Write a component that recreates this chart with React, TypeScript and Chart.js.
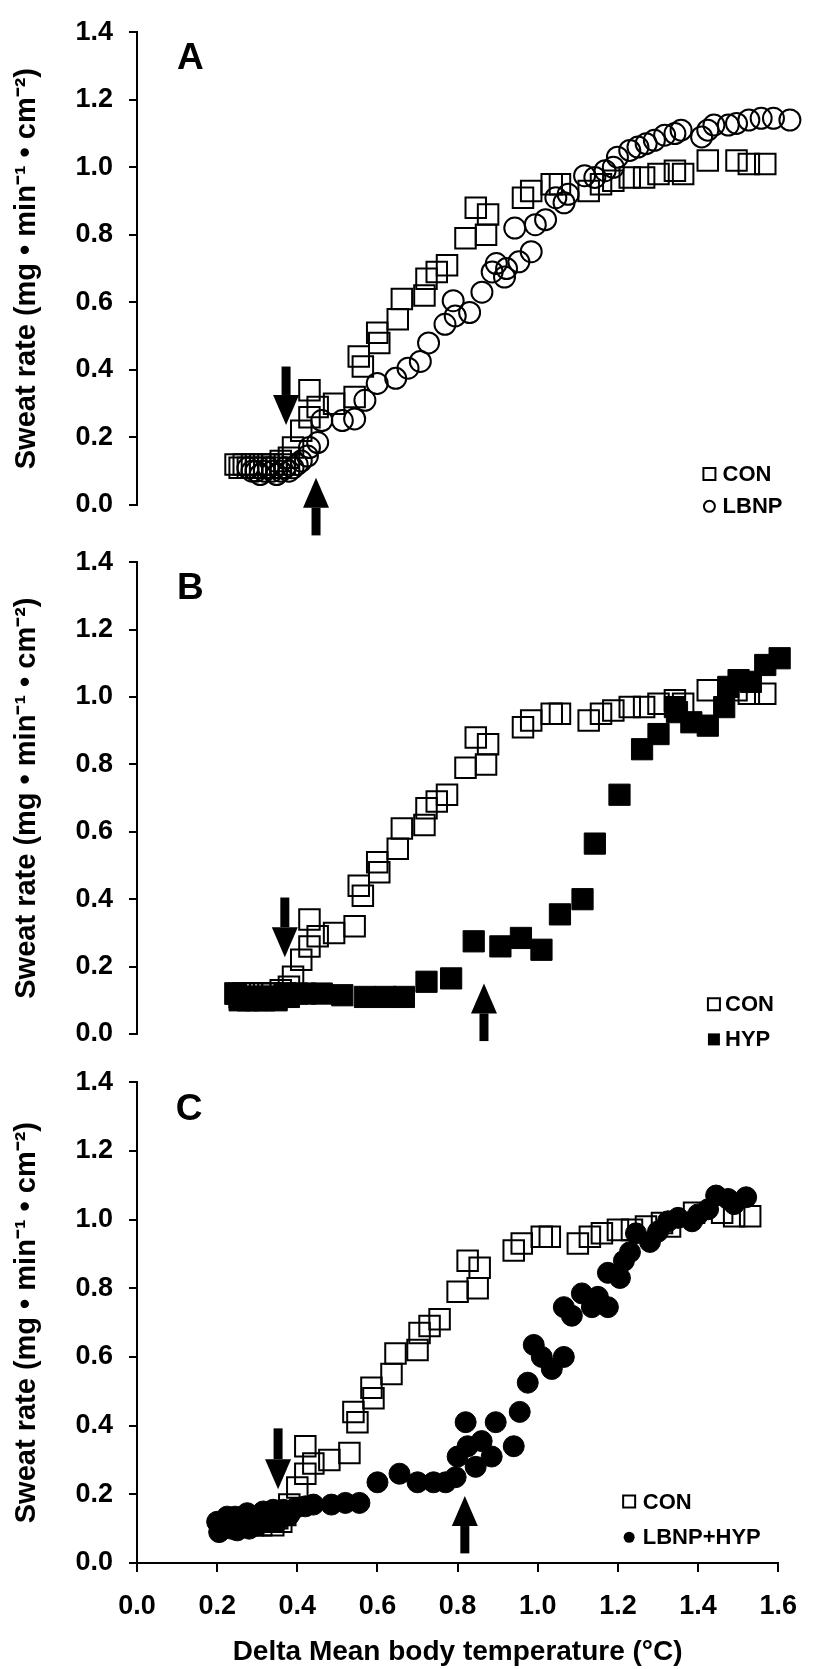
import React, { useEffect, useRef } from "react";
import { Chart, registerables } from "chart.js";
Chart.register(...registerables);

const FONT = '"Liberation Sans", Arial, sans-serif';

// ---- data ----
const conX = [0.24,0.25,0.26,0.27,0.28,0.29,0.30,0.31,0.32,0.33,0.34,0.35,0.36,0.37,0.38,0.40,0.42,0.42,0.44,0.48,0.53,0.54,0.55,0.585,0.59,0.635,0.645,0.70,0.705,0.73,0.755,0.80,0.825,0.85,0.855,0.94,0.96,1.01,1.03,1.10,1.13,1.16,1.20,1.235,1.27,1.31,1.33,1.39,1.46,1.49,1.53];
const conY = [0.12,0.11,0.12,0.11,0.12,0.11,0.12,0.11,0.12,0.12,0.11,0.13,0.12,0.14,0.17,0.22,0.34,0.26,0.29,0.30,0.32,0.44,0.41,0.51,0.48,0.55,0.61,0.62,0.67,0.69,0.71,0.79,0.88,0.80,0.86,0.91,0.93,0.95,0.95,0.93,0.95,0.96,0.97,0.97,0.98,0.99,0.98,1.02,1.02,1.01,1.01];

const lbnpX = [0.27,0.28,0.29,0.30,0.31,0.32,0.33,0.34,0.35,0.36,0.37,0.38,0.39,0.40,0.415,0.42,0.44,0.45,0.50,0.53,0.555,0.585,0.63,0.66,0.69,0.71,0.75,0.77,0.775,0.81,0.84,0.865,0.875,0.895,0.90,0.92,0.93,0.96,0.97,0.995,1.02,1.04,1.05,1.09,1.115,1.14,1.16,1.17,1.20,1.22,1.24,1.26,1.285,1.31,1.325,1.375,1.39,1.405,1.44,1.46,1.49,1.52,1.55,1.59];
const lbnpY = [0.11,0.10,0.10,0.09,0.10,0.11,0.10,0.09,0.10,0.11,0.10,0.11,0.12,0.13,0.145,0.17,0.185,0.25,0.25,0.255,0.31,0.36,0.375,0.405,0.425,0.48,0.535,0.605,0.56,0.57,0.63,0.69,0.715,0.675,0.70,0.82,0.72,0.75,0.83,0.845,0.91,0.895,0.92,0.975,0.97,0.99,1.0,1.03,1.05,1.06,1.07,1.08,1.095,1.10,1.11,1.09,1.11,1.125,1.125,1.13,1.14,1.145,1.145,1.14];

const hypX = [0.24,0.25,0.26,0.27,0.28,0.29,0.30,0.31,0.32,0.33,0.34,0.35,0.36,0.37,0.39,0.41,0.45,0.50,0.555,0.605,0.65,0.705,0.765,0.82,0.885,0.935,0.985,1.03,1.085,1.115,1.175,1.23,1.27,1.31,1.315,1.35,1.39,1.43,1.44,1.465,1.495,1.53,1.565];
const hypY = [0.12,0.10,0.11,0.10,0.11,0.10,0.11,0.10,0.11,0.11,0.10,0.11,0.12,0.11,0.12,0.12,0.12,0.115,0.11,0.11,0.11,0.155,0.165,0.275,0.26,0.285,0.25,0.355,0.40,0.565,0.71,0.845,0.89,0.97,0.955,0.925,0.915,0.97,1.03,1.05,1.045,1.095,1.115];

const lhX = [0.20,0.205,0.215,0.225,0.235,0.245,0.25,0.26,0.275,0.28,0.29,0.30,0.315,0.325,0.34,0.35,0.365,0.38,0.395,0.42,0.44,0.485,0.52,0.555,0.60,0.655,0.70,0.74,0.77,0.795,0.80,0.82,0.825,0.845,0.86,0.885,0.895,0.94,0.955,0.975,0.99,1.01,1.035,1.065,1.065,1.085,1.11,1.135,1.15,1.175,1.175,1.205,1.215,1.23,1.245,1.28,1.30,1.325,1.35,1.385,1.40,1.425,1.445,1.475,1.49,1.52];
const lhY = [0.12,0.09,0.11,0.135,0.10,0.135,0.095,0.12,0.145,0.10,0.12,0.11,0.15,0.12,0.155,0.12,0.155,0.14,0.16,0.165,0.17,0.17,0.175,0.175,0.235,0.26,0.235,0.235,0.235,0.25,0.31,0.41,0.34,0.28,0.355,0.31,0.41,0.34,0.44,0.525,0.635,0.60,0.565,0.60,0.745,0.72,0.785,0.745,0.775,0.745,0.845,0.83,0.88,0.905,0.96,0.935,0.965,0.995,1.005,0.995,1.015,1.03,1.07,1.06,1.045,1.065];

const xTickValues = [0, 0.2, 0.4, 0.6, 0.8, 1.0, 1.2, 1.4, 1.6];
const yTickValues = [0, 0.2, 0.4, 0.6, 0.8, 1.0, 1.2, 1.4];

const panelLetters = ["A", "B", "C"];
const yTitle = "Sweat rate (mg \u2022 min\u207B\u00B9 \u2022 cm\u207B\u00B2)";
const xTitle = "Delta Mean body temperature (\u00B0C)";

// arrows: [x, fromY, toY]
const arrowsA = [[0.363, 0.41, 0.237], [0.436, -0.09, 0.081]];
const arrowsB = [[0.36, 0.405, 0.228], [0.845, -0.021, 0.15]];
const arrowsC = [[0.352, 0.392, 0.215], [0.818, 0.028, 0.195]];

const pts = (xs: number[], ys: number[]) => xs.map((x, i) => ({ x, y: ys[i] }));

function drawArrow(ctx: CanvasRenderingContext2D, x: number, y0: number, y1: number) {
  const dir = y1 > y0 ? 1 : -1;
  const headLen = 30, hw = 13, sw = 4.5;
  const base = y1 - dir * headLen;
  ctx.fillRect(x - sw, Math.min(y0, base), 2 * sw, Math.abs(base - y0));
  ctx.beginPath();
  ctx.moveTo(x - hw, base);
  ctx.lineTo(x + hw, base);
  ctx.lineTo(x, y1);
  ctx.closePath();
  ctx.fill();
}

const overlay = {
  id: "overlay",
  afterDatasetsDraw(chart: any, _a: any, opts: any) {
    const { ctx } = chart;
    const xs = chart.scales.x, ys = chart.scales.y;
    const px = (v: number) => xs.getPixelForValue(v);
    const py = (v: number) => ys.getPixelForValue(v);
    ctx.save();
    ctx.fillStyle = "#000";
    ctx.strokeStyle = "#000";
    ctx.font = `bold 37px ${FONT}`;
    ctx.textAlign = "center";
    ctx.textBaseline = "middle";
    ctx.fillText(opts.letter, px(0.13), py(1.32));
    for (const a of opts.arrows) drawArrow(ctx, px(a[0]), py(a[1]), py(a[2]));
    ctx.font = `bold 22px ${FONT}`;
    ctx.textAlign = "left";
    for (const it of opts.legend) {
      const mx = px(it.mx), my = py(it.y);
      ctx.lineWidth = 2;
      ctx.beginPath();
      if (it.shape === "rect") ctx.rect(mx - 6, my - 6, 12, 12);
      else ctx.arc(mx, my, 5.5, 0, Math.PI * 2);
      if (it.filled) ctx.fill(); else ctx.stroke();
      ctx.fillText(it.label, px(it.tx), my + 1);
    }
    ctx.restore();
  },
};

function dsOpen(label: string, data: any[], style: string) {
  return {
    label, data,
    pointStyle: style,
    pointRadius: style === "rect" ? 14.5 : 10.5,
    pointBorderWidth: 2,
    borderColor: "#000",
    backgroundColor: "rgba(0,0,0,0)",
    showLine: false,
    clip: false as any,
  };
}
function dsFilled(label: string, data: any[], style: string) {
  return {
    label, data,
    pointStyle: style,
    pointRadius: style === "rect" ? 15 : 10.5,
    pointBorderWidth: 1,
    borderColor: "#000",
    backgroundColor: "#000",
    showLine: false,
    clip: false as any,
  };
}

function makeConfig(panel: number): any {
  const isC = panel === 2;
  const datasets: any[] = [dsOpen("CON", pts(conX, conY), "rect")];
  let legend: any[];
  let arrows: number[][];
  if (panel === 0) {
    datasets.push(dsOpen("LBNP", pts(lbnpX, lbnpY), "circle"));
    legend = [
      { label: "CON", shape: "rect", filled: false, mx: 1.394, tx: 1.426, y: 0.092 },
      { label: "LBNP", shape: "circle", filled: false, mx: 1.394, tx: 1.426, y: -0.004 },
    ];
    arrows = arrowsA;
  } else if (panel === 1) {
    datasets.push(dsFilled("HYP", pts(hypX, hypY), "rect"));
    legend = [
      { label: "CON", shape: "rect", filled: false, mx: 1.405, tx: 1.432, y: 0.088 },
      { label: "HYP", shape: "rect", filled: true, mx: 1.405, tx: 1.432, y: -0.016 },
    ];
    arrows = arrowsB;
  } else {
    datasets.push(dsFilled("LBNP+HYP", pts(lhX, lhY), "circle"));
    legend = [
      { label: "CON", shape: "rect", filled: false, mx: 1.228, tx: 1.262, y: 0.179 },
      { label: "LBNP+HYP", shape: "circle", filled: true, mx: 1.228, tx: 1.262, y: 0.075 },
    ];
    arrows = arrowsC;
  }
  const pads = [
    { top: 20, bottom: 55 },
    { top: 22, bottom: 36 },
    { top: 26, bottom: 0 },
  ][panel];
  return {
    type: "scatter",
    data: { datasets },
    plugins: [overlay],
    options: {
      animation: false,
      responsive: false,
      devicePixelRatio: 1,
      events: [],
      layout: { padding: { left: 0, right: 21, top: pads.top, bottom: pads.bottom } },
      plugins: {
        legend: { display: false },
        tooltip: { enabled: false },
        overlay: { letter: panelLetters[panel], arrows, legend },
      },
      scales: {
        x: {
          type: "linear",
          display: isC,
          min: 0,
          max: 1.6,
          afterBuildTicks: (s: any) => { s.ticks = xTickValues.map((v) => ({ value: v })); },
          afterFit: (s: any) => { s.height = isC ? 106 : 0; },
          ticks: {
            color: "#000",
            padding: 18,
            font: { family: FONT, weight: "bold", size: 27 },
            callback: (v: any) => Number(v).toFixed(1),
          },
          grid: { display: true, drawOnChartArea: false, drawTicks: true, tickLength: 9, color: "#000", lineWidth: 2 },
          border: { display: true, color: "#000", width: 2 },
          title: {
            display: true,
            text: xTitle,
            color: "#000",
            font: { family: FONT, weight: "bold", size: 28 },
            padding: { top: 0, bottom: 0 },
          },
        },
        y: {
          type: "linear",
          min: 0,
          max: 1.4,
          afterBuildTicks: (s: any) => { s.ticks = yTickValues.map((v) => ({ value: v })); },
          afterFit: (s: any) => { s.width = 137; },
          ticks: {
            color: "#000",
            padding: 16,
            font: { family: FONT, weight: "bold", size: 27 },
            callback: (v: any) => Number(v).toFixed(1),
          },
          grid: { display: true, drawOnChartArea: false, drawTicks: true, tickLength: 8, color: "#000", lineWidth: 2 },
          border: { display: true, color: "#000", width: 2 },
          title: {
            display: true,
            text: yTitle,
            color: "#000",
            font: { family: FONT, weight: "bold", size: 29 },
            padding: { top: 10, bottom: 0 },
          },
        },
      },
    },
  };
}

const layout = [
  { top: 0, height: 560 },
  { top: 530, height: 540 },
  { top: 1050, height: 619 },
];

function Panel({ idx }: { idx: number }) {
  const ref = useRef<HTMLCanvasElement>(null);
  useEffect(() => {
    if (!ref.current) return;
    const chart = new Chart(ref.current, makeConfig(idx));
    return () => chart.destroy();
  }, [idx]);
  const l = layout[idx];
  return (
    <canvas
      ref={ref}
      width={815}
      height={l.height}
      style={{ position: "absolute", left: 0, top: l.top, width: 815, height: l.height, display: "block" }}
    />
  );
}

export default function App() {
  return (
    <div style={{ position: "absolute", left: 0, top: 0, width: 815, height: 1669, background: "#fff", overflow: "hidden" }}>
      <Panel idx={0} />
      <Panel idx={1} />
      <Panel idx={2} />
    </div>
  );
}
